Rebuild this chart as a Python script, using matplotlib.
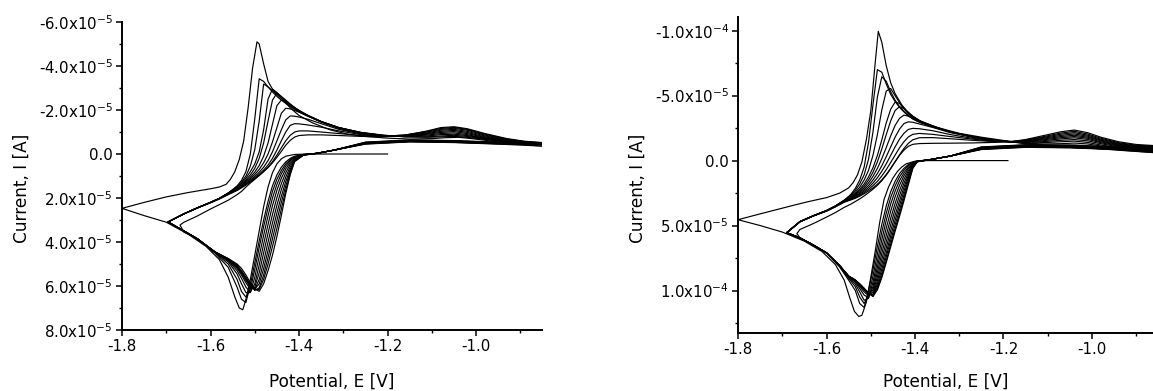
import math
import matplotlib
matplotlib.use("Agg")
import matplotlib.pyplot as plt
from matplotlib.ticker import FixedLocator, MultipleLocator, FuncFormatter

# ---------------- DATA (currents in units of 1e-5 A, potentials in V) ----------------
# ----- left panel -----
L_FIRST_CATH_E = [-1.20, -1.30, -1.38, -1.41, -1.43, -1.44, -1.45, -1.46, -1.47, -1.48, -1.49, -1.50,
                  -1.51, -1.52, -1.527, -1.535, -1.545, -1.56, -1.58, -1.61, -1.65, -1.70, -1.75, -1.80]
L_FIRST_CATH_I = [0.0, 0.0, 0.0, 0.02, 0.1, 0.22, 0.45, 0.85, 1.5, 2.4, 3.5, 4.6,
                  5.7, 6.6, 7.08, 7.0, 6.5, 5.6, 4.8, 4.2, 3.65, 3.1, 2.8, 2.47]
L_FIRST_ANOD_E = [-1.80, -1.75, -1.70, -1.65, -1.60, -1.58, -1.565, -1.555, -1.545, -1.535, -1.525,
                  -1.515, -1.505, -1.495, -1.49, -1.48, -1.47, -1.46, -1.45, -1.44, -1.42, -1.40,
                  -1.37, -1.33, -1.29, -1.25, -1.20, -1.15, -1.10, -1.07, -1.04, -1.01, -0.97,
                  -0.93, -0.89, -0.85]
L_FIRST_ANOD_I = [2.47, 2.2, 1.95, 1.75, 1.58, 1.5, 1.38, 1.15, 0.8, 0.25, -0.6,
                  -2.1, -3.9, -5.1, -5.0, -4.1, -3.3, -2.95, -2.75, -2.55, -2.1, -1.75,
                  -1.42, -1.1, -0.9, -0.8, -0.72, -0.68, -0.7, -0.74, -0.76, -0.7, -0.6,
                  -0.5, -0.42, -0.36]

L_CATH_E = [-0.85, -0.95, -1.05, -1.15, -1.25, -1.32, -1.36, -1.39, -1.41, -1.42, -1.43, -1.44, -1.45,
            -1.46, -1.47, -1.48, -1.49, -1.50, -1.51, -1.52, -1.53, -1.54, -1.56, -1.59, -1.63, -1.66]
L_CATH_I = [
    [-0.36, -0.45, -0.52, -0.55, -0.45, -0.18, -0.03, 0.02, 0.1, 0.2, 0.36, 0.6, 0.95, 1.45, 2.15, 3.0, 3.95, 4.95, 5.95, 6.75, 6.6, 6.05, 5.15, 4.5, 3.85, 3.5],
    [-0.43, -0.46, -0.53, -0.56, -0.46, -0.18, -0.03, 0.02, 0.12, 0.25, 0.45, 0.75, 1.15, 1.7, 2.45, 3.3, 4.25, 5.25, 6.15, 6.5, 6.25, 5.7, 5.0, 4.48, 3.85, 3.5],
    [-0.44, -0.47, -0.54, -0.57, -0.47, -0.18, -0.03, 0.03, 0.15, 0.3, 0.55, 0.9, 1.38, 2.0, 2.8, 3.7, 4.65, 5.6, 6.3, 6.3, 5.9, 5.45, 4.9, 4.47, 3.85, 3.5],
    [-0.45, -0.48, -0.55, -0.58, -0.48, -0.18, -0.03, 0.03, 0.18, 0.38, 0.68, 1.1, 1.65, 2.35, 3.2, 4.1, 5.05, 5.9, 6.28, 6.05, 5.65, 5.3, 4.85, 4.46, 3.85, 3.5],
    [-0.46, -0.49, -0.56, -0.59, -0.49, -0.18, -0.03, 0.04, 0.22, 0.47, 0.85, 1.35, 1.98, 2.75, 3.6, 4.5, 5.4, 6.05, 6.15, 5.85, 5.5, 5.2, 4.82, 4.45, 3.85, 3.5],
    [-0.47, -0.50, -0.57, -0.60, -0.50, -0.18, -0.03, 0.04, 0.26, 0.58, 1.05, 1.62, 2.33, 3.13, 4.0, 4.9, 5.7, 6.15, 6.05, 5.75, 5.42, 5.15, 4.8, 4.45, 3.85, 3.5],
    [-0.48, -0.51, -0.58, -0.61, -0.51, -0.18, -0.03, 0.04, 0.3, 0.7, 1.25, 1.92, 2.68, 3.5, 4.38, 5.22, 5.9, 6.15, 5.98, 5.7, 5.38, 5.12, 4.78, 4.45, 3.85, 3.5],
    [-0.49, -0.52, -0.59, -0.62, -0.52, -0.18, -0.03, 0.05, 0.33, 0.8, 1.45, 2.2, 3.02, 3.85, 4.7, 5.5, 6.08, 6.2, 5.95, 5.65, 5.35, 5.1, 4.77, 4.45, 3.85, 3.5],
    [-0.50, -0.53, -0.60, -0.63, -0.53, -0.18, -0.03, 0.05, 0.35, 0.9, 1.65, 2.5, 3.38, 4.2, 5.0, 5.7, 6.15, 6.18, 5.92, 5.6, 5.3, 5.05, 4.76, 4.45, 3.85, 3.5],
    [-0.51, -0.54, -0.61, -0.64, -0.54, -0.18, -0.03, 0.05, 0.3, 0.95, 1.8, 2.8, 3.75, 4.6, 5.3, 5.9, 6.24, 6.12, 5.85, 5.5, 5.2, 5.0, 4.75, 4.45, 3.85, 3.55],
]
L_TURN_E = [-1.696, -1.696, -1.696, -1.696, -1.696, -1.696, -1.696, -1.696, -1.696, -1.669]
L_TURN_I = [3.09, 3.09, 3.09, 3.09, 3.09, 3.09, 3.09, 3.09, 3.09, 3.23]
L_ANOD_E = [-1.66, -1.63, -1.60, -1.58, -1.56, -1.54, -1.53, -1.52, -1.51, -1.50, -1.49, -1.48, -1.47,
            -1.46, -1.45, -1.44, -1.43, -1.42, -1.41, -1.40, -1.38, -1.35, -1.31, -1.26, -1.21, -1.16,
            -1.11, -1.08, -1.05, -1.02, -0.98, -0.93, -0.89, -0.85]
L_ANOD_I = [
    [2.72, 2.45, 2.2, 2.02, 1.78, 1.45, 1.2, 0.8, 0.0, -1.6, -3.42, -3.3, -3.05, -2.82, -2.62, -2.45, -2.3, -2.16, -2.03, -1.92, -1.72, -1.46, -1.2, -0.98, -0.86, -0.78, -0.76, -0.78, -0.8, -0.76, -0.66, -0.55, -0.48, -0.43],
    [2.72, 2.45, 2.2, 2.02, 1.78, 1.48, 1.28, 1.0, 0.55, -0.2, -1.5, -3.18, -3.05, -2.88, -2.7, -2.52, -2.36, -2.2, -2.06, -1.94, -1.73, -1.47, -1.2, -0.98, -0.85, -0.78, -0.78, -0.82, -0.85, -0.8, -0.68, -0.56, -0.49, -0.44],
    [2.72, 2.45, 2.2, 2.02, 1.78, 1.5, 1.32, 1.1, 0.8, 0.45, -0.1, -1.1, -2.5, -2.95, -2.8, -2.6, -2.42, -2.25, -2.1, -1.97, -1.75, -1.48, -1.2, -0.97, -0.84, -0.8, -0.82, -0.88, -0.9, -0.84, -0.7, -0.57, -0.5, -0.45],
    [2.72, 2.45, 2.2, 2.02, 1.78, 1.52, 1.36, 1.18, 0.95, 0.65, 0.2, -0.5, -1.5, -2.45, -2.76, -2.62, -2.45, -2.28, -2.12, -1.98, -1.76, -1.48, -1.2, -0.96, -0.83, -0.81, -0.86, -0.93, -0.96, -0.88, -0.72, -0.58, -0.5, -0.46],
    [2.72, 2.45, 2.2, 2.02, 1.78, 1.55, 1.4, 1.24, 1.05, 0.82, 0.52, 0.1, -0.5, -1.35, -2.2, -2.45, -2.38, -2.25, -2.1, -1.97, -1.75, -1.47, -1.18, -0.95, -0.82, -0.82, -0.9, -0.98, -1.02, -0.93, -0.75, -0.6, -0.51, -0.47],
    [2.72, 2.45, 2.2, 2.02, 1.78, 1.57, 1.43, 1.28, 1.12, 0.93, 0.7, 0.4, 0.0, -0.55, -1.2, -1.85, -2.08, -2.05, -1.98, -1.9, -1.72, -1.45, -1.16, -0.93, -0.8, -0.83, -0.93, -1.03, -1.07, -0.98, -0.78, -0.62, -0.52, -0.48],
    [2.72, 2.45, 2.2, 2.02, 1.8, 1.6, 1.47, 1.33, 1.18, 1.02, 0.83, 0.6, 0.3, -0.1, -0.6, -1.1, -1.55, -1.73, -1.72, -1.68, -1.58, -1.38, -1.12, -0.91, -0.8, -0.84, -0.96, -1.08, -1.12, -1.03, -0.82, -0.64, -0.54, -0.49],
    [2.72, 2.45, 2.2, 2.03, 1.82, 1.63, 1.5, 1.37, 1.23, 1.08, 0.92, 0.73, 0.5, 0.2, -0.18, -0.6, -1.0, -1.3, -1.38, -1.37, -1.32, -1.22, -1.05, -0.88, -0.8, -0.86, -1.0, -1.12, -1.17, -1.08, -0.86, -0.66, -0.55, -0.5],
    [2.72, 2.46, 2.22, 2.05, 1.85, 1.66, 1.54, 1.41, 1.27, 1.12, 0.97, 0.8, 0.6, 0.35, 0.05, -0.28, -0.6, -0.85, -1.0, -1.05, -1.05, -1.0, -0.93, -0.84, -0.8, -0.87, -1.03, -1.16, -1.21, -1.12, -0.9, -0.68, -0.56, -0.51],
    [3.1, 2.82, 2.5, 2.3, 2.1, 1.85, 1.7, 1.5, 1.32, 1.15, 0.98, 0.8, 0.62, 0.4, 0.15, -0.12, -0.4, -0.62, -0.77, -0.84, -0.87, -0.87, -0.84, -0.8, -0.78, -0.85, -1.05, -1.2, -1.24, -1.15, -0.93, -0.7, -0.58, -0.52],
]

# ----- right panel -----
R_FIRST_CATH_E = [-1.19, -1.30, -1.38, -1.40, -1.42, -1.43, -1.44, -1.45, -1.46, -1.47, -1.48, -1.49, -1.50,
                  -1.51, -1.52, -1.527, -1.537, -1.547, -1.56, -1.58, -1.61, -1.65, -1.70, -1.75, -1.80]
R_FIRST_CATH_I = [0.0, 0.0, 0.0, 0.05, 0.25, 0.5, 0.85, 1.35, 2.05, 3.0, 4.8, 7.0, 9.0,
                  10.9, 11.9, 12.0, 11.6, 10.6, 9.2, 8.0, 7.0, 6.2, 5.5, 5.0, 4.55]
R_FIRST_ANOD_E = [-1.80, -1.75, -1.71, -1.67, -1.64, -1.60, -1.57, -1.55, -1.54, -1.53, -1.52, -1.51,
                  -1.50, -1.49, -1.483, -1.475, -1.465, -1.455, -1.445, -1.43, -1.415, -1.40, -1.385,
                  -1.35, -1.30, -1.25, -1.20, -1.15, -1.10, -1.06, -1.03, -1.00, -0.96, -0.92, -0.862]
R_FIRST_ANOD_I = [4.55, 4.1, 3.75, 3.4, 3.15, 2.85, 2.5, 2.1, 1.7, 1.1, 0.1, -1.6,
                  -3.8, -7.5, -9.95, -9.1, -7.3, -6.0, -5.15, -4.3, -3.65, -3.3, -3.0,
                  -2.55, -2.1, -1.8, -1.55, -1.35, -1.15, -1.05, -1.02, -0.95, -0.85, -0.75, -0.62]

R_CATH_E = [-0.862, -0.95, -1.05, -1.15, -1.25, -1.32, -1.37, -1.395, -1.405, -1.415, -1.425, -1.435,
            -1.445, -1.455, -1.465, -1.475, -1.485, -1.495, -1.505, -1.515, -1.525, -1.535, -1.55,
            -1.57, -1.60, -1.63, -1.66]
R_CATH_I = [
    [-0.62, -0.85, -0.98, -1.02, -0.85, -0.35, -0.05, 0.03, 0.12, 0.3, 0.6, 1.0, 1.6, 2.4, 3.5, 4.9, 6.6, 8.4, 10.0, 11.3, 11.0, 10.0, 9.2, 8.2, 7.1, 6.5, 5.95],
    [-0.72, -0.87, -1.0, -1.04, -0.87, -0.35, -0.05, 0.04, 0.15, 0.38, 0.75, 1.25, 1.95, 2.85, 4.05, 5.5, 7.2, 8.9, 10.4, 11.0, 10.5, 9.7, 9.05, 8.15, 7.1, 6.5, 5.95],
    [-0.76, -0.89, -1.02, -1.06, -0.89, -0.35, -0.05, 0.05, 0.2, 0.5, 0.95, 1.55, 2.35, 3.35, 4.6, 6.1, 7.75, 9.35, 10.6, 10.75, 10.1, 9.5, 8.98, 8.12, 7.1, 6.5, 5.95],
    [-0.80, -0.91, -1.04, -1.08, -0.91, -0.35, -0.05, 0.05, 0.25, 0.62, 1.18, 1.9, 2.8, 3.9, 5.2, 6.65, 8.2, 9.7, 10.55, 10.35, 9.85, 9.35, 8.95, 8.1, 7.1, 6.5, 5.95],
    [-0.84, -0.93, -1.06, -1.10, -0.93, -0.35, -0.05, 0.06, 0.3, 0.78, 1.45, 2.3, 3.3, 4.45, 5.75, 7.15, 8.6, 9.95, 10.4, 10.1, 9.7, 9.3, 8.92, 8.1, 7.1, 6.5, 5.95],
    [-0.88, -0.95, -1.08, -1.12, -0.95, -0.35, -0.05, 0.06, 0.36, 0.95, 1.75, 2.7, 3.75, 4.95, 6.25, 7.6, 8.95, 10.15, 10.3, 9.95, 9.6, 9.25, 8.9, 8.1, 7.1, 6.5, 5.95],
    [-0.92, -0.97, -1.10, -1.14, -0.97, -0.35, -0.05, 0.07, 0.42, 1.12, 2.05, 3.1, 4.2, 5.4, 6.7, 8.0, 9.25, 10.3, 10.25, 9.9, 9.55, 9.22, 8.9, 8.1, 7.1, 6.5, 5.95],
    [-0.96, -0.99, -1.12, -1.16, -0.99, -0.35, -0.05, 0.08, 0.48, 1.3, 2.35, 3.45, 4.6, 5.8, 7.1, 8.35, 9.5, 10.35, 10.2, 9.88, 9.52, 9.2, 8.9, 8.1, 7.1, 6.5, 5.95],
    [-1.00, -1.01, -1.14, -1.18, -1.01, -0.35, -0.05, 0.08, 0.52, 1.5, 2.65, 3.8, 4.95, 6.15, 7.4, 8.65, 9.7, 10.4, 10.2, 9.85, 9.5, 9.2, 8.9, 8.1, 7.1, 6.5, 5.95],
    [-1.05, -1.03, -1.16, -1.20, -1.03, -0.35, -0.05, 0.09, 0.56, 1.7, 2.9, 4.1, 5.25, 6.45, 7.7, 8.9, 9.85, 10.45, 10.2, 9.85, 9.5, 9.2, 8.9, 8.1, 7.1, 6.5, 5.95],
    [-1.10, -1.05, -1.18, -1.22, -1.05, -0.35, -0.05, 0.09, 0.6, 1.85, 3.1, 4.3, 5.45, 6.65, 7.85, 9.0, 9.95, 10.45, 10.2, 9.82, 9.48, 9.18, 8.88, 8.1, 7.1, 6.5, 5.95],
]
R_TURN_E = [-1.69, -1.69, -1.69, -1.69, -1.69, -1.69, -1.69, -1.69, -1.69, -1.69, -1.667]
R_TURN_I = [5.55, 5.55, 5.55, 5.55, 5.55, 5.55, 5.55, 5.55, 5.55, 5.55, 5.62]
R_ANOD_E = [-1.66, -1.63, -1.60, -1.58, -1.56, -1.545, -1.535, -1.525, -1.515, -1.505, -1.495, -1.485,
            -1.475, -1.465, -1.455, -1.445, -1.435, -1.425, -1.415, -1.405, -1.39, -1.36, -1.32, -1.27,
            -1.22, -1.185, -1.15, -1.11, -1.07, -1.04, -1.01, -0.98, -0.94, -0.90, -0.862]
R_ANOD_I = [
    [4.7, 4.25, 3.85, 3.5, 3.05, 2.6, 2.15, 1.5, 0.5, -1.4, -4.3, -7.0, -6.8, -5.9, -5.1, -4.55, -4.1, -3.75, -3.45, -3.2, -2.95, -2.6, -2.2, -1.85, -1.58, -1.45, -1.3, -1.2, -1.18, -1.2, -1.15, -1.05, -0.9, -0.8, -0.72],
    [4.7, 4.25, 3.85, 3.5, 3.05, 2.68, 2.3, 1.8, 1.1, -0.1, -2.2, -4.9, -6.45, -6.1, -5.3, -4.65, -4.15, -3.78, -3.47, -3.22, -2.96, -2.6, -2.2, -1.85, -1.57, -1.45, -1.33, -1.28, -1.3, -1.35, -1.28, -1.12, -0.95, -0.84, -0.76],
    [4.7, 4.25, 3.85, 3.5, 3.07, 2.75, 2.45, 2.05, 1.5, 0.75, -0.4, -2.0, -3.9, -5.35, -5.55, -5.0, -4.45, -3.98, -3.6, -3.3, -3.0, -2.62, -2.2, -1.84, -1.56, -1.45, -1.36, -1.38, -1.45, -1.5, -1.4, -1.2, -1.0, -0.88, -0.8],
    [4.7, 4.25, 3.85, 3.5, 3.08, 2.8, 2.55, 2.22, 1.8, 1.25, 0.55, -0.4, -1.6, -2.9, -3.95, -4.5, -4.4, -4.05, -3.7, -3.38, -3.05, -2.65, -2.22, -1.84, -1.56, -1.45, -1.4, -1.46, -1.56, -1.62, -1.52, -1.3, -1.06, -0.92, -0.84],
    [4.7, 4.25, 3.85, 3.5, 3.1, 2.84, 2.62, 2.33, 1.97, 1.5, 0.9, 0.1, -0.9, -2.0, -3.05, -3.85, -4.15, -4.0, -3.72, -3.42, -3.08, -2.67, -2.22, -1.83, -1.55, -1.45, -1.43, -1.53, -1.67, -1.75, -1.63, -1.38, -1.12, -0.96, -0.88],
    [4.7, 4.25, 3.85, 3.52, 3.12, 2.88, 2.68, 2.43, 2.12, 1.72, 1.22, 0.6, -0.15, -1.0, -1.9, -2.7, -3.25, -3.5, -3.42, -3.25, -3.0, -2.65, -2.2, -1.82, -1.54, -1.45, -1.46, -1.6, -1.76, -1.85, -1.72, -1.45, -1.17, -1.0, -0.92],
    [4.7, 4.25, 3.86, 3.53, 3.14, 2.92, 2.74, 2.52, 2.25, 1.92, 1.5, 1.0, 0.4, -0.3, -1.05, -1.8, -2.42, -2.85, -2.98, -2.95, -2.82, -2.55, -2.15, -1.8, -1.53, -1.45, -1.49, -1.66, -1.85, -1.95, -1.8, -1.52, -1.22, -1.04, -0.96],
    [4.7, 4.26, 3.87, 3.54, 3.16, 2.96, 2.8, 2.6, 2.36, 2.08, 1.73, 1.32, 0.82, 0.25, -0.4, -1.05, -1.65, -2.1, -2.4, -2.48, -2.45, -2.3, -2.0, -1.72, -1.5, -1.45, -1.52, -1.72, -1.94, -2.05, -1.88, -1.58, -1.27, -1.08, -1.0],
    [4.7, 4.26, 3.88, 3.55, 3.18, 3.0, 2.85, 2.67, 2.46, 2.22, 1.93, 1.6, 1.18, 0.7, 0.15, -0.42, -0.98, -1.45, -1.82, -2.02, -2.09, -2.02, -1.85, -1.65, -1.48, -1.45, -1.55, -1.78, -2.03, -2.15, -1.96, -1.65, -1.32, -1.13, -1.05],
    [4.7, 4.27, 3.89, 3.56, 3.2, 3.03, 2.9, 2.74, 2.55, 2.34, 2.1, 1.82, 1.48, 1.08, 0.6, 0.08, -0.45, -0.93, -1.33, -1.6, -1.76, -1.77, -1.68, -1.56, -1.46, -1.45, -1.58, -1.84, -2.12, -2.25, -2.05, -1.72, -1.38, -1.18, -1.1],
    [5.3, 4.85, 4.35, 4.0, 3.6, 3.35, 3.15, 2.95, 2.72, 2.47, 2.2, 1.9, 1.55, 1.12, 0.62, 0.1, -0.4, -0.8, -1.1, -1.25, -1.31, -1.33, -1.34, -1.36, -1.4, -1.45, -1.62, -1.92, -2.22, -2.35, -2.15, -1.8, -1.45, -1.24, -1.16],
]

L_YTICKS = [-6, -4, -2, 0, 2, 4, 6, 8]
R_YTICKS = [-10, -5, 0, 5, 10]
XTICKS = [-1.8, -1.6, -1.4, -1.2, -1.0]

# ---------------- STYLE ----------------
plt.rcParams['font.family'] = ['DejaVu Sans']
plt.rcParams['mathtext.fontset'] = 'custom'
plt.rcParams['mathtext.rm'] = 'DejaVu Sans'
plt.rcParams['mathtext.default'] = 'regular'
plt.rcParams['axes.unicode_minus'] = False

TICK_FS = 10.8
LABEL_FS = 12.2
LW = 0.85


def sci_label(v, pos):
    if abs(v) < 1e-9:
        return "0.0"
    real = v * 1e-5
    e = int(math.floor(math.log10(abs(real)) + 1e-9))
    m = real / 10 ** e
    return "%.1fx10$^{%d}$" % (m, e)


def style_axes(ax, xlim, ylim, yticks, yminor, ylab_xy, xlab_y):
    ax.set_xlim(*xlim)
    ax.set_ylim(*ylim)
    for s in ('top', 'right'):
        ax.spines[s].set_visible(False)
    for s in ('left', 'bottom'):
        ax.spines[s].set_linewidth(1.4)
    ax.xaxis.set_major_locator(FixedLocator(XTICKS))
    ax.xaxis.set_minor_locator(MultipleLocator(0.1))
    ax.xaxis.set_major_formatter(FuncFormatter(lambda x, p: "%.1f" % x))
    ax.yaxis.set_major_locator(FixedLocator(yticks))
    ax.yaxis.set_minor_locator(MultipleLocator(yminor))
    ax.yaxis.set_major_formatter(FuncFormatter(sci_label))
    ax.tick_params(which='major', direction='out', length=4.5, width=1.1, labelsize=TICK_FS, pad=2)
    ax.tick_params(which='minor', direction='out', length=2.5, width=1.0)
    ax.set_xlabel("Potential, E [V]", fontsize=LABEL_FS)
    ax.set_ylabel("Current, I [A]", fontsize=LABEL_FS)
    ax.yaxis.set_label_coords(*ylab_xy)
    ax.xaxis.set_label_coords(0.5, xlab_y)
    ax.xaxis.label.set_va('center')
    ax.yaxis.label.set_va('center')


def draw_panel(ax, fce, fci, fae, fai, ce, ci_list, te, ti, ae, ai_list):
    ax.plot(fce + fae, fci + fai, color='black', lw=LW, solid_joinstyle='round')
    for k in range(len(ci_list)):
        xs = ce + [te[k]] + ae
        ys = ci_list[k] + [ti[k]] + ai_list[k]
        ax.plot(xs, ys, color='black', lw=LW, solid_joinstyle='round')


fig = plt.figure(figsize=(11.53, 3.91), dpi=100)
axL = fig.add_axes([0.1058, 0.156, 0.3643, 0.7877])
axR = fig.add_axes([0.6401, 0.1483, 0.3599, 0.8082])

draw_panel(axL, L_FIRST_CATH_E, L_FIRST_CATH_I, L_FIRST_ANOD_E, L_FIRST_ANOD_I,
           L_CATH_E, L_CATH_I, L_TURN_E, L_TURN_I, L_ANOD_E, L_ANOD_I)
draw_panel(axR, R_FIRST_CATH_E, R_FIRST_CATH_I, R_FIRST_ANOD_E, R_FIRST_ANOD_I,
           R_CATH_E, R_CATH_I, R_TURN_E, R_TURN_I, R_ANOD_E, R_ANOD_I)

style_axes(axL, (-1.8, -0.851), (8, -6), L_YTICKS, 1, (-0.238, 0.461), -0.169)
style_axes(axR, (-1.8, -0.862), (13.27, -11.05), R_YTICKS, 2.5, (-0.241, 0.459), -0.155)

fig.savefig("out.png", dpi=100)
